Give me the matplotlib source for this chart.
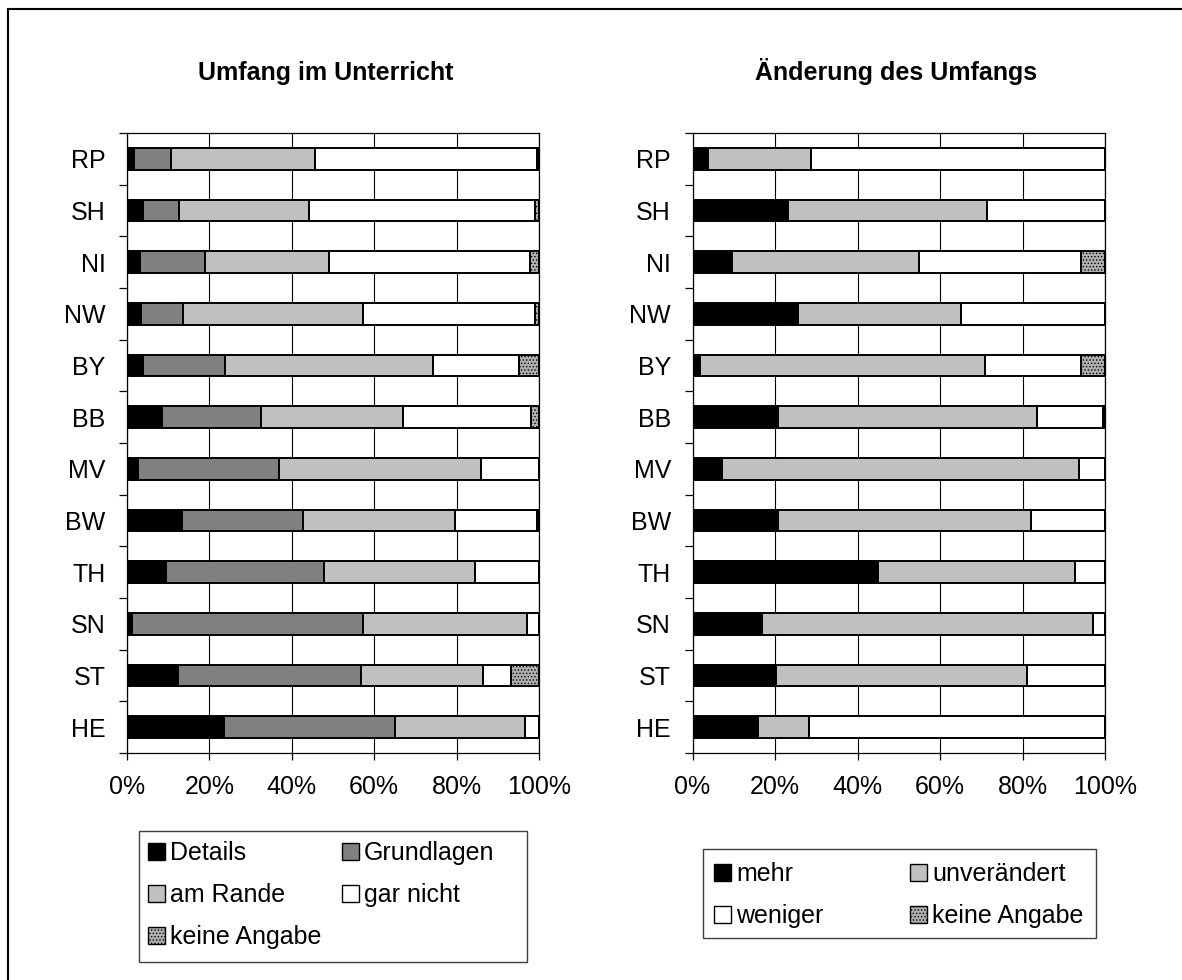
import numpy as np
import matplotlib
matplotlib.use("Agg")
import matplotlib.pyplot as plt
from matplotlib.patches import Patch, Rectangle

plt.rcParams["font.family"] = ["Liberation Sans", "DejaVu Sans"]
plt.rcParams["hatch.linewidth"] = 0.6

# Bundesländer, top to bottom
states = ["RP", "SH", "NI", "NW", "BY", "BB", "MV", "BW", "TH", "SN", "ST", "HE"]

# Umfang im Unterricht (percent)
details     = [1.7, 4.0, 3.1, 3.5, 4.0, 8.4, 2.6, 13.3, 9.4, 1.1, 12.3, 23.5]
grundlagen  = [9.1, 8.6, 15.9, 10.1, 19.8, 24.2, 34.3, 29.5, 38.3, 56.2, 44.5, 41.6]
am_rande    = [34.8, 31.5, 30.1, 43.7, 50.5, 34.5, 49.0, 36.9, 36.8, 39.9, 29.7, 31.6]
gar_nicht   = [53.8, 54.9, 48.6, 41.7, 20.8, 31.0, 14.1, 19.7, 15.5, 2.8, 6.7, 3.3]
keine_ang_1 = [0.6, 1.0, 2.3, 1.0, 4.9, 1.9, 0.0, 0.6, 0.0, 0.0, 6.8, 0.0]

# Änderung des Umfangs (percent)
mehr         = [3.7, 23.1, 9.5, 25.5, 1.8, 20.7, 7.1, 20.7, 44.9, 16.8, 20.2, 15.8]
unveraendert = [25.0, 48.4, 45.5, 39.7, 69.2, 62.7, 86.6, 61.4, 47.8, 80.3, 60.9, 12.4]
weniger      = [71.3, 28.5, 39.2, 34.8, 23.2, 16.0, 6.3, 17.9, 7.3, 2.9, 18.9, 71.8]
keine_ang_2  = [0.0, 0.0, 5.8, 0.0, 5.8, 0.6, 0.0, 0.0, 0.0, 0.0, 0.0, 0.0]

pct_ticks = [0, 20, 40, 60, 80, 100]
pct_labels = ["0%", "20%", "40%", "60%", "80%", "100%"]

W, H = 1182, 980
fig = plt.figure(figsize=(W / 100, H / 100), dpi=100)
fig.patch.set_facecolor("white")

FS = 18
styles_left = [
    ("Details", details, dict(facecolor="black")),
    ("Grundlagen", grundlagen, dict(facecolor="#808080")),
    ("am Rande", am_rande, dict(facecolor="#c0c0c0")),
    ("gar nicht", gar_nicht, dict(facecolor="white")),
    ("keine Angabe", keine_ang_1, dict(facecolor="#b0b0b0", hatch=".....")),
]
styles_right = [
    ("mehr", mehr, dict(facecolor="black")),
    ("unverändert", unveraendert, dict(facecolor="#c0c0c0")),
    ("weniger", weniger, dict(facecolor="white")),
    ("keine Angabe", keine_ang_2, dict(facecolor="#b0b0b0", hatch=".....")),
]


def px_axes(x0, x1, y0, y1):
    return fig.add_axes([x0 / W, 1 - y1 / H, (x1 - x0) / W, (y1 - y0) / H])


def stacked(ax, series, title, title_x):
    n = len(states)
    pos = np.arange(n)
    left = np.zeros(n)
    handles = []
    for label, vals, st in series:
        vals = np.asarray(vals, dtype=float)
        ax.barh(pos, vals, left=left, height=0.42, edgecolor="black",
                linewidth=1.4, zorder=3, **st)
        left += vals
        handles.append(Patch(edgecolor="black", linewidth=1.0, label=label, **st))
    ax.set_xlim(0, 100)
    ax.set_ylim(n - 0.5, -0.5)
    ax.set_xticks(pct_ticks)
    ax.set_xticklabels(pct_labels, fontsize=FS)
    ax.set_yticks(pos)
    ax.set_yticklabels(states, fontsize=FS)
    ax.set_yticks(np.arange(n + 1) - 0.5, minor=True)
    ax.tick_params(axis="y", which="major", length=0, pad=15.5)
    ax.tick_params(axis="y", which="minor", length=6, width=0.9, direction="out")
    ax.tick_params(axis="x", which="major", length=5, width=0.9, direction="out", pad=11)
    ax.xaxis.grid(True, color="black", linewidth=0.8, zorder=0)
    ax.set_axisbelow(True)
    for sp in ax.spines.values():
        sp.set_linewidth(0.9)
        sp.set_color("black")
    fig.text(title_x / W, 1 - 80 / H, title, ha="center", va="baseline",
             fontsize=FS, fontweight="bold")
    return handles


ax1 = px_axes(127, 539, 133, 753)
h1 = stacked(ax1, styles_left, "Umfang im Unterricht", 326)
ax2 = px_axes(692.5, 1105, 133, 753)
h2 = stacked(ax2, styles_right, "Änderung des Umfangs", 896)


def row_major(handles, ncol=2):
    # legend fills columns first; reorder so entries read across rows
    return [h for c in range(ncol) for h in handles[c::ncol]]


def legend_box(ax, handles, x_anchor, y_anchor, colsp, frame):
    leg = ax.legend(handles=row_major(handles), ncol=2, loc="upper left",
                    bbox_to_anchor=(x_anchor / W, 1 - y_anchor / H),
                    bbox_transform=fig.transFigure, frameon=False,
                    fontsize=FS, handlelength=0.68, handleheight=0.68,
                    handletextpad=0.2, columnspacing=colsp, labelspacing=0.72,
                    borderpad=0, borderaxespad=0)
    fx0, fy0, fx1, fy1 = frame
    fig.patches.append(Rectangle((fx0 / W, 1 - fy1 / H), (fx1 - fx0) / W,
                                 (fy1 - fy0) / H, transform=fig.transFigure,
                                 fill=False, edgecolor="#404040", linewidth=1.0))
    return leg


legend_box(ax1, h1, 148, 841, 0.82, (139, 831, 527, 962))
legend_box(ax2, h2, 714, 862, 3.46, (703, 849, 1096, 938))

# outer frame of the whole figure
fig.patches.append(Rectangle((8 / W, -0.05), 1.2, 1 - 9 / H + 0.05,
                             transform=fig.transFigure, fill=False,
                             edgecolor="black", linewidth=1.5))

fig.savefig("out.png", dpi=100)
